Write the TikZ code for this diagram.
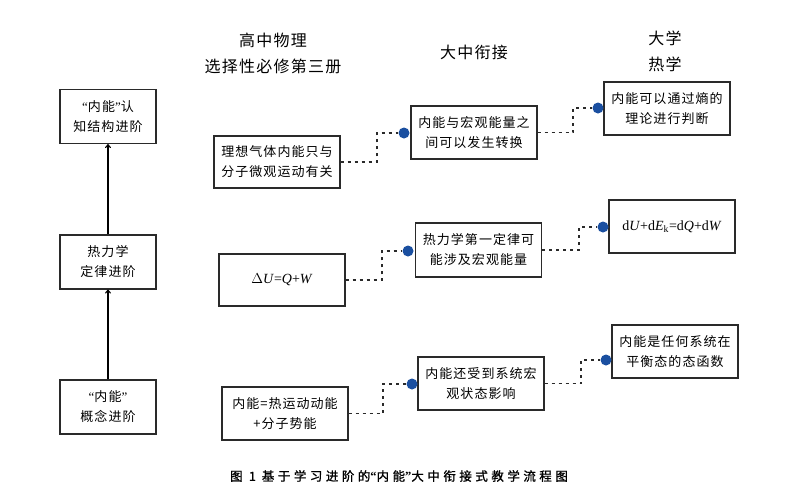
\documentclass[tikz,border=0pt]{standalone}
\usepackage{fontspec}
\setmainfont{Noto Sans CJK SC}[LetterSpace=8]
\newfontfamily\capfont{Noto Sans CJK SC}[LetterSpace=28,FakeBold=1.2]
\newfontfamily\tms{Liberation Serif}
\newcommand{\myLQ}{{\tms “}}
\newcommand{\myRQ}{{\tms ”}}
\usetikzlibrary{arrows.meta}
\definecolor{dotblue}{HTML}{1A4FA0}
\definecolor{boxline}{HTML}{2A2A2A}
\tikzset{
  box/.style={draw=boxline, line width=1.2pt, align=center, inner sep=0pt,
    minimum width=126pt, minimum height=53pt, font=\fontsize{13}{20}\selectfont},
  lbox/.style={box, minimum width=96pt, minimum height=54pt},
  hdr/.style={align=center, font=\fontsize{16}{26}\selectfont},
  dot/.style={circle, fill=dotblue, inner sep=0pt, minimum size=11pt},
  conn/.style={line width=1.3pt, dash pattern=on 3pt off 4pt, draw=boxline},
  up/.style={line width=1.1pt, -{To[length=4pt,width=6pt]}}
}
\begin{document}
\begin{tikzpicture}[x=1pt,y=-1pt]
\useasboundingbox[fill=white] (0,0) rectangle (800,493);
% left column
\node[lbox] (L1) at (108,116.5) {\myLQ 内能\myRQ 认\\知结构进阶};
\node[lbox] (L2) at (108,262) {热力学\\定律进阶};
\node[lbox] (L3) at (108,407) {\myLQ 内能\myRQ\\概念进阶};
\draw[up] (L3.north) -- (L2.south);
\draw[up] (L2.north) -- (L1.south);
% headers
\node[hdr] (H1) at (273,53) {高中物理\\选择性必修第三册};
\node[hdr] (H2) at (474,52) {大中衔接};
\node[hdr] (H3) at (665,51.5) {大学\\热学};
% column A
\node[box,minimum height=52pt] (A1) at (277,162) {理想气体内能只与\\分子微观运动有关};
\node[box,minimum height=52pt] (A2) at (282,280) {\tms\fontsize{14}{16}\selectfont $\Delta$\textit{U}=\textit{Q}+\textit{W}};
\node[box] (A3) at (285,413.5) {内能=热运动动能\\+分子势能};
% column B
\node[box] (B1) at (474,132.5) {内能与宏观能量之\\间可以发生转换};
\node[box,minimum height=54pt] (B2) at (478.5,250) {热力学第一定律可\\能涉及宏观能量};
\node[box] (B3) at (481,383.5) {内能还受到系统宏\\观状态影响};
% column C
\node[box] (C1) at (667,108.5) {内能可以通过熵的\\理论进行判断};
\node[box] (C2) at (672,226.5) {\tms\fontsize{14}{16}\selectfont d\textit{U}+d\textit{E}\textsubscript{k}=d\textit{Q}+d\textit{W}};
\node[box] (C3) at (675,351.5) {内能是任何系统在\\平衡态的态函数};
% dots
\node[dot] (dB1) at (404,133) {};
\node[dot] (dB2) at (408,251) {};
\node[dot] (dB3) at (412,384) {};
\node[dot] (dC1) at (598,108) {};
\node[dot] (dC2) at (603,227) {};
\node[dot] (dC3) at (606,360) {};
% bend coordinates
\coordinate (kA1) at (377,0);
\coordinate (kA2) at (382,0);
\coordinate (kA3) at (383,0);
\coordinate (kB1) at (573,0);
\coordinate (kB2) at (579,0);
\coordinate (kB3) at (581,0);
% connectors
\draw[conn] (A1.east) -- (A1.east -| kA1) |- (dB1.west);
\draw[conn] (A2.east) -- (A2.east -| kA2) |- (dB2.west);
\draw[conn] (A3.east) -- (A3.east -| kA3) |- (dB3.west);
\draw[conn] (B1.east) -- (B1.east -| kB1) |- (dC1.west);
\draw[conn] (B2.east) -- (B2.east -| kB2) |- (dC2.west);
\draw[conn] (B3.east) -- (B3.east -| kB3) |- (dC3.west);
% caption
\node[font=\capfont\fontsize{12.5}{14}\selectfont] (cap) at (399,476) {图 1\hspace{6pt}基于学习进阶的{\tms\bfseries “}内能{\tms\bfseries ”}大中衔接式教学流程图};
\end{tikzpicture}
\end{document}
